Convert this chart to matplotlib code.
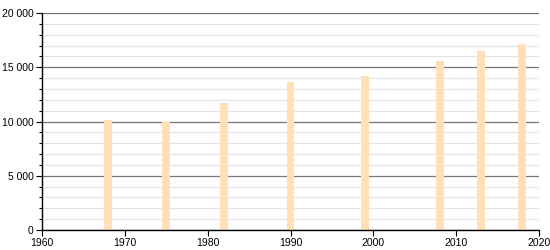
import matplotlib
matplotlib.use("Agg")
import matplotlib.pyplot as plt
from matplotlib.ticker import MultipleLocator, FuncFormatter

years = [1968, 1975, 1982, 1990, 1999, 2008, 2013, 2018]
population = [10140, 9980, 11680, 13670, 14190, 15580, 16500, 17100]

plt.rcParams['font.family'] = ['Liberation Sans', 'DejaVu Sans']

fig = plt.figure(figsize=(5.5, 2.5), dpi=100)
ax = fig.add_axes([42/550, 20/250, (539-42)/550, (230-13)/250])

ax.bar(years, population, width=0.95, color='#ffe0b8', zorder=3)

ax.set_xlim(1960, 2020)
ax.set_ylim(0, 20000)
ax.xaxis.set_major_locator(MultipleLocator(10))
ax.yaxis.set_major_locator(MultipleLocator(5000))
ax.yaxis.set_minor_locator(MultipleLocator(1000))
ax.yaxis.set_major_formatter(FuncFormatter(lambda v, p: f"{int(v):,}".replace(",", " ")))

ax.grid(axis='y', which='major', color='#777777', linewidth=0.9, zorder=1)
ax.grid(axis='y', which='minor', color='#e4e4e4', linewidth=0.9, zorder=1)
ax.set_axisbelow(True)

for s in ['top', 'right']:
    ax.spines[s].set_visible(False)
for s in ['left', 'bottom']:
    ax.spines[s].set_color('black')
    ax.spines[s].set_linewidth(1)
    ax.spines[s].set_zorder(4)

ax.tick_params(axis='both', which='major', labelsize=7.5, length=4, width=0.8, pad=2, colors='black')
ax.tick_params(axis='y', which='minor', length=2, width=0.8)

fig.savefig('out.png', dpi=100)
